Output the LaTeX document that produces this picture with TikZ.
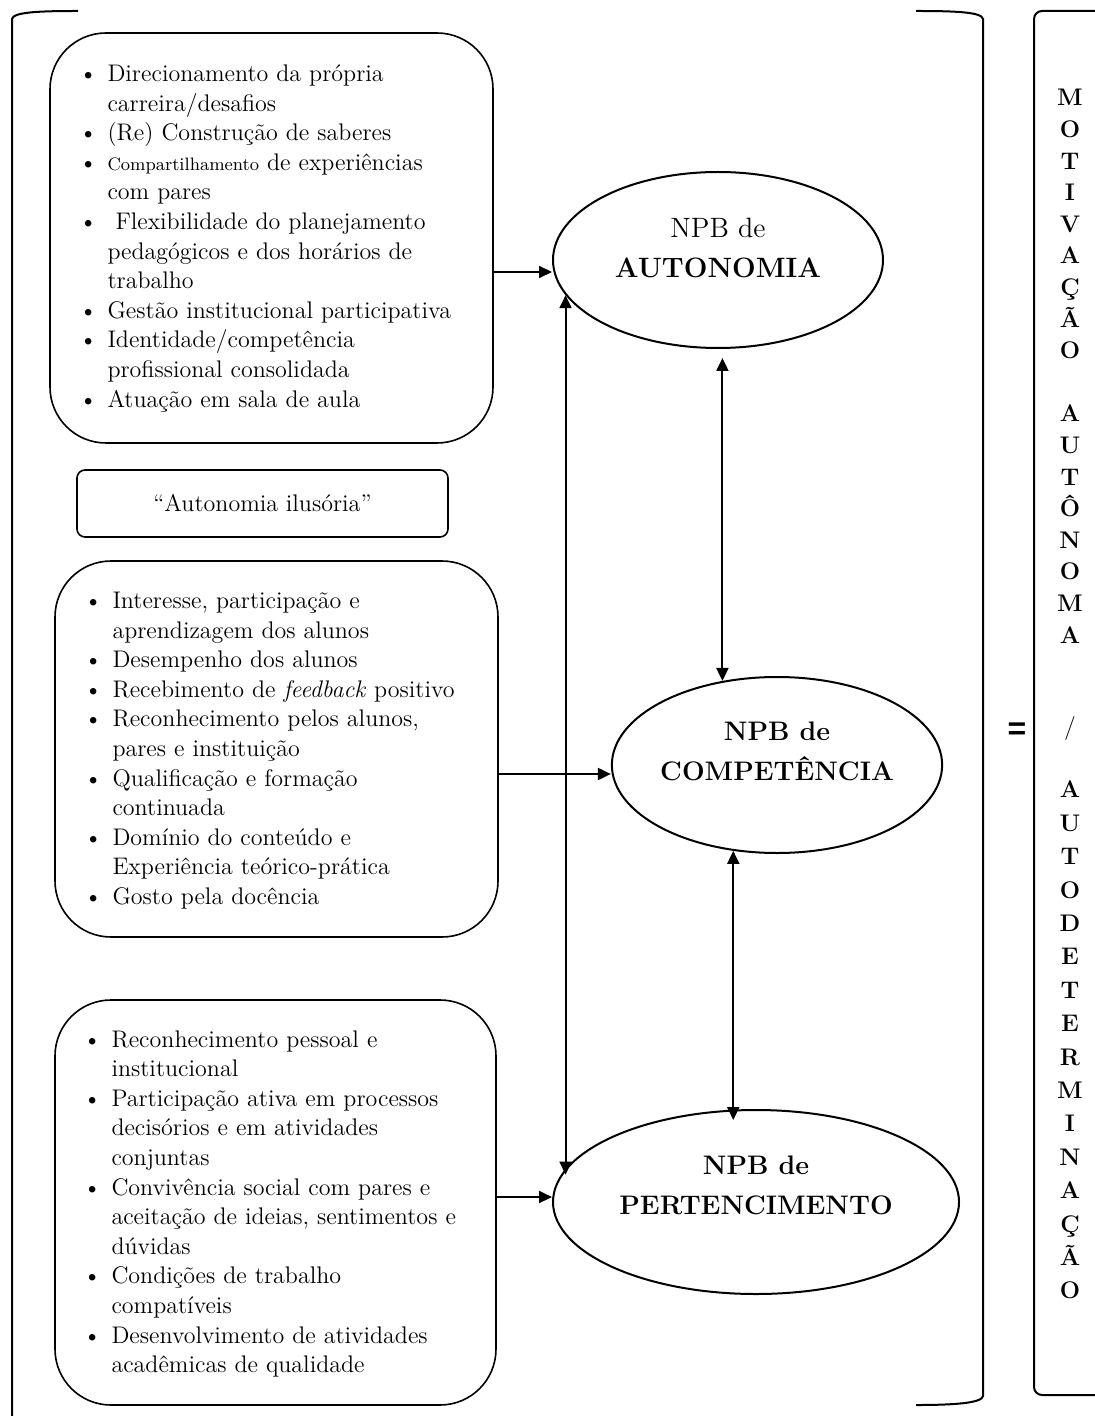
\documentclass[tikz,border=0pt]{standalone}
\usepackage{fontspec}
\newfontfamily\eqfont{Liberation Sans}
\usepackage{enumitem}
\usepackage{tikz}
\usetikzlibrary{arrows.meta, shapes.geometric}
\setlist[itemize]{nosep, leftmargin=11pt, labelsep=5pt}

\begin{document}
\begin{tikzpicture}[x=0.5pt, y=-0.5pt,
    listbox/.style={rectangle, draw, line width=0.8pt, rounded corners=28pt, inner sep=0pt,
        text width=186pt, align=left, font=\fontsize{12}{14.8}\selectfont},
    npb/.style={ellipse, draw, line width=1pt, inner sep=0pt, align=center,
        font=\fontsize{14}{20}\selectfont},
    npbbold/.style={npb, font=\fontsize{13.4}{20}\selectfont\bfseries},
    arr/.style={-{Triangle[length=6.5pt, width=6pt]}, line width=1pt},
    darr/.style={{Triangle[length=6.5pt, width=6pt]}-{Triangle[length=6.5pt, width=6pt]}, line width=1pt},
    brace/.style={line width=1pt}]
    \useasboundingbox (0,0) rectangle (1094,1416);

    % Outer brackets
    \draw[brace] (78,11) .. controls (40,11) and (13,12) .. (12,19) -- (12,1420);
    \draw[brace] (916,11) .. controls (955,11) and (982,12) .. (983,19) -- (983,1396)
        .. controls (982,1403) and (955,1405) .. (916,1405);

    % Lists of factors
    \node[listbox, minimum width=221.5pt, minimum height=205pt] (autlist) at (271.5,238) {%
        \begin{itemize}
        \item Direcionamento da própria\\carreira/desafios
        \item (Re) Construção de saberes
        \item {\small Compartilhamento} de experiências\\com pares
        \item \ Flexibilidade do planejamento\\pedagógicos e dos horários de\\trabalho
        \item Gestão institucional participativa
        \item Identidade/competência\\profissional consolidada
        \item Atuação em sala de aula
        \end{itemize}\kern6pt};
    \node[rectangle, draw, line width=0.8pt, rounded corners=4pt, minimum width=185.5pt,
        minimum height=33.5pt, font=\fontsize{12}{14.8}\selectfont] (ilus) at (262.5,503.5)
        {“Autonomia ilusória”};
    \node[listbox, minimum width=221.5pt, minimum height=188pt] (comlist) at (276.5,749) {%
        \begin{itemize}
        \item Interesse, participação e\\aprendizagem dos alunos
        \item Desempenho dos alunos
        \item Recebimento de \textit{feedback} positivo
        \item Reconhecimento pelos alunos,\\pares e instituição
        \item Qualificação e formação\\continuada
        \item Domínio do conteúdo e\\Experiência teórico-prática
        \item Gosto pela docência
        \end{itemize}\kern5pt};
    \node[listbox, minimum width=220.5pt, minimum height=202.5pt] (perlist) at (275.5,1202.5) {%
        \begin{itemize}
        \item Reconhecimento pessoal e\\institucional
        \item Participação ativa em processos\\decisórios e em atividades\\conjuntas
        \item Convivência social com pares e\\aceitação de ideias, sentimentos e\\dúvidas
        \item Condições de trabalho\\compatíveis
        \item Desenvolvimento de atividades\\acadêmicas de qualidade
        \end{itemize}\kern5pt};

    % Basic psychological needs
    \node[npb, minimum width=165pt, minimum height=88pt] (aut) at (718,260)
        {NPB de\\\textbf{AUTONOMIA}\\[-8pt]\mbox{}};
    \node[npbbold, minimum width=165pt, minimum height=88pt] (com) at (777,765)
        {NPB de\\COMPETÊNCIA\\[-6pt]\mbox{}};
    \node[npbbold, minimum width=203pt, minimum height=92pt] (per) at (756,1202)
        {NPB de\\PERTENCIMENTO\\[-3pt]\mbox{}};

    % Result
    \node[font=\eqfont\bfseries\fontsize{16}{16}\selectfont, inner sep=0pt] (eq) at (1017,731) {=};
    \draw[brace, rounded corners=4pt] (1034,11) rectangle (1108,1395);
    \node[font=\bfseries\fontsize{12}{15.8}\selectfont, align=center, inner sep=0pt,
        anchor=north] (motiv) at (1070,89)
        {M\\O\\T\\I\\V\\A\\Ç\\Ã\\O\\ \\A\\U\\T\\Ô\\N\\O\\M\\A\\[30pt]{\mdseries /}\\ \\%
         A\\[0.9pt]U\\[0.9pt]T\\[0.9pt]O\\[0.9pt]D\\[0.9pt]E\\[0.9pt]T\\[0.9pt]E\\[0.9pt]%
         R\\[0.9pt]M\\[0.9pt]I\\[0.9pt]N\\[0.9pt]A\\[0.9pt]Ç\\[0.9pt]Ã\\[0.9pt]O};

    % Arrows
    \draw[arr] ([yshift=-6pt]aut.west -| autlist.east) -- ([yshift=-6pt]aut.west);
    \draw[arr] ([yshift=-4.5pt]com.west -| comlist.east) -- ([yshift=-4.5pt]com.west);
    \draw[arr] ([yshift=2.5pt]per.west -| perlist.east) -- ([yshift=2.5pt]per.west);
    \draw[darr] (aut.193) -- (aut.193 |- per.172);
    \draw[darr] ([yshift=-4.5pt]aut.south -| com.123) -- (com.123);
    \draw[darr] (com.243) -- ([yshift=-5.5pt]com.243 |- per.north);
\end{tikzpicture}
\end{document}
